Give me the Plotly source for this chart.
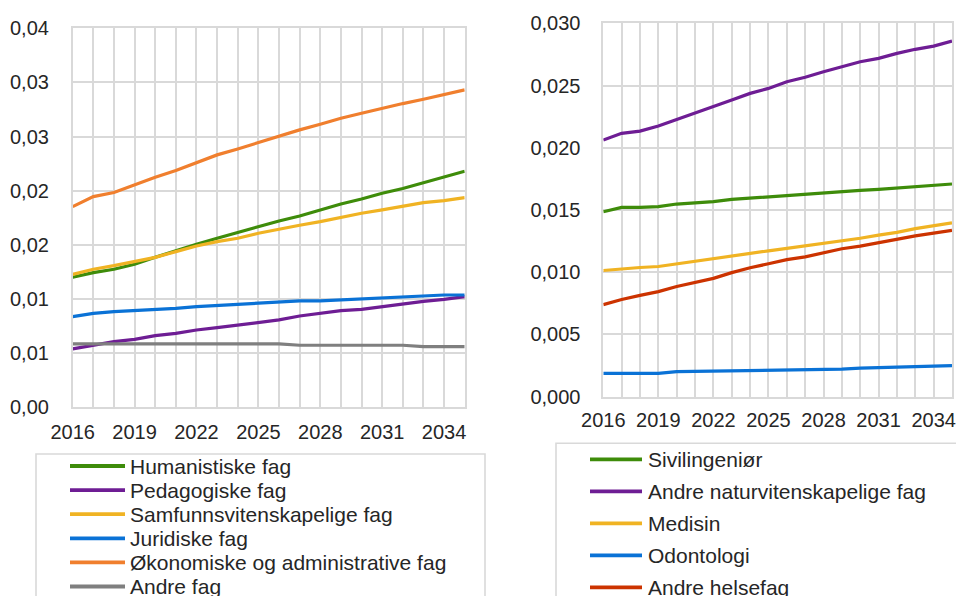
import plotly.graph_objects as go

years = list(range(2016, 2036))

# Left panel
humanistiske = [0.01201, 0.01244, 0.01275, 0.01321, 0.01385, 0.01447, 0.01505, 0.01561, 0.01616, 0.01669,
                0.01721, 0.01767, 0.01823, 0.01878, 0.01924, 0.01977, 0.02020, 0.02075, 0.02124, 0.02180]
pedagogiske = [0.00539, 0.00576, 0.00607, 0.00628, 0.00662, 0.00683, 0.00714, 0.00736, 0.00760, 0.00782,
               0.00807, 0.00843, 0.00868, 0.00893, 0.00905, 0.00930, 0.00954, 0.00979, 0.00997, 0.01022]
samfunn = [0.01228, 0.01275, 0.01308, 0.01345, 0.01385, 0.01438, 0.01490, 0.01530, 0.01561, 0.01607,
           0.01647, 0.01681, 0.01715, 0.01755, 0.01792, 0.01823, 0.01853, 0.01890, 0.01909, 0.01937]
juridiske = [0.00837, 0.00868, 0.00884, 0.00893, 0.00905, 0.00914, 0.00930, 0.00939, 0.00948, 0.00960,
             0.00973, 0.00982, 0.00982, 0.00991, 0.01000, 0.01013, 0.01016, 0.01028, 0.01037, 0.01037]
okonomiske = [0.01853, 0.01946, 0.01983, 0.02053, 0.02124, 0.02186, 0.02260, 0.02331, 0.02386, 0.02445,
              0.02500, 0.02562, 0.02614, 0.02669, 0.02716, 0.02762, 0.02805, 0.02845, 0.02888, 0.02931]
andre_fag = [0.00585, 0.00585, 0.00585, 0.00585, 0.00585, 0.00585, 0.00585, 0.00585, 0.00585, 0.00585,
             0.00585, 0.00573, 0.00573, 0.00573, 0.00573, 0.00573, 0.00573, 0.00560, 0.00560, 0.00560]

# Right panel
sivilingenior = [0.01486, 0.01521, 0.01521, 0.01527, 0.01548, 0.01559, 0.01567, 0.01585, 0.01596, 0.01607,
                 0.01618, 0.01626, 0.01636, 0.01647, 0.01658, 0.01666, 0.01676, 0.01687, 0.01698, 0.01709]
andre_natur = [0.02062, 0.02116, 0.02134, 0.02175, 0.02228, 0.02282, 0.02335, 0.02384, 0.02437, 0.02477,
               0.02531, 0.02566, 0.02611, 0.02651, 0.02691, 0.02718, 0.02758, 0.02791, 0.02817, 0.02858]
medisin = [0.01014, 0.01027, 0.01038, 0.01046, 0.01068, 0.01090, 0.01109, 0.01131, 0.01150, 0.01172,
           0.01191, 0.01210, 0.01232, 0.01254, 0.01273, 0.01298, 0.01320, 0.01350, 0.01372, 0.01396]
odontologi = [0.00187, 0.00187, 0.00187, 0.00187, 0.00201, 0.00203, 0.00205, 0.00209, 0.00212, 0.00212,
              0.00214, 0.00218, 0.00220, 0.00222, 0.00230, 0.00232, 0.00233, 0.00241, 0.00245, 0.00249]
andre_helse = [0.00740, 0.00781, 0.00814, 0.00844, 0.00885, 0.00918, 0.00951, 0.00997, 0.01036, 0.01068,
               0.01101, 0.01123, 0.01156, 0.01189, 0.01210, 0.01238, 0.01265, 0.01292, 0.01314, 0.01336]

left_names = ["Humanistiske fag", "Pedagogiske fag", "Samfunnsvitenskapelige fag", "Juridiske fag",
              "Økonomiske og administrative fag", "Andre fag"]
left_series = [humanistiske, pedagogiske, samfunn, juridiske, okonomiske, andre_fag]
left_colors = ["#3E8C0A", "#6E1D94", "#F0B323", "#0A72D6", "#F07F2E", "#7F7F7F"]

right_names = ["Sivilingeniør", "Andre naturvitenskapelige fag", "Medisin", "Odontologi", "Andre helsefag"]
right_series = [sivilingenior, andre_natur, medisin, odontologi, andre_helse]
right_colors = ["#3E8C0A", "#6E1D94", "#F0B323", "#0A72D6", "#CC3300"]

left_yticks = [0, 0.005, 0.01, 0.015, 0.02, 0.025, 0.03, 0.035]
left_yticktext = ["0,00", "0,01", "0,01", "0,02", "0,02", "0,03", "0,03", "0,04"]
right_yticks = [0, 0.005, 0.01, 0.015, 0.02, 0.025, 0.03]
right_yticktext = ["0,000", "0,005", "0,010", "0,015", "0,020", "0,025", "0,030"]
xticks = list(range(2016, 2036, 3))

W, H = 956, 596
FONT = "Liberation Sans, Arial, sans-serif"
TXT = "#262626"
GRID = "#D9D9D9"
LW = 3.2


def px(x):
    return x / W


def py(y):
    return 1 - y / H


fig = go.Figure()
for n, s, c in zip(left_names, left_series, left_colors):
    fig.add_trace(go.Scatter(x=years, y=s, name=n, mode="lines", line=dict(color=c, width=LW),
                             xaxis="x", yaxis="y", showlegend=False))
for n, s, c in zip(right_names, right_series, right_colors):
    fig.add_trace(go.Scatter(x=years, y=s, name=n, mode="lines", line=dict(color=c, width=LW),
                             xaxis="x2", yaxis="y2", showlegend=False))

# Legend boxes (drawn as boxes, entries below)
shapes = [
    dict(type="rect", xref="paper", yref="paper", x0=px(36), x1=px(485), y0=py(640), y1=py(454),
         line=dict(color=GRID, width=1.6), fillcolor="white", layer="below"),
    dict(type="rect", xref="paper", yref="paper", x0=px(556), x1=px(1000), y0=py(640), y1=py(443.3),
         line=dict(color=GRID, width=1.6), fillcolor="white", layer="below"),
]
annotations = []


def add_legend(names, colors, x_line0, x_line1, x_text, y0, dy):
    for i, (n, c) in enumerate(zip(names, colors)):
        y = y0 + i * dy
        shapes.append(dict(type="line", xref="paper", yref="paper", x0=px(x_line0), x1=px(x_line1),
                           y0=py(y), y1=py(y), line=dict(color=c, width=LW + 0.6)))
        annotations.append(dict(xref="paper", yref="paper", x=px(x_text), y=py(y), text=n,
                                showarrow=False, xanchor="left", yanchor="middle", borderpad=0,
                                font=dict(family=FONT, size=21, color=TXT)))


add_legend(left_names, left_colors, 70, 125, 128.5, 466, 24.1)
add_legend(right_names, right_colors, 590, 642, 646.5, 459.3, 32.0)

xcommon = dict(range=[2016, 2035], tickvals=xticks, ticktext=[str(v) for v in xticks],
               showgrid=True, gridcolor=GRID, gridwidth=1.6,
               minor=dict(dtick=1, tick0=2016, showgrid=True, gridcolor=GRID, gridwidth=1.6),
               showline=True, linecolor=GRID, linewidth=1.6, mirror=True,
               zeroline=False, ticks="", tickfont=dict(family=FONT, size=20, color=TXT),
               automargin=False, fixedrange=True)
ycommon = dict(showgrid=True, gridcolor=GRID, gridwidth=1.6, showline=True, linecolor=GRID,
               linewidth=1.6, mirror=True, zeroline=False, ticks="",
               tickfont=dict(family=FONT, size=20, color=TXT), automargin=False, fixedrange=True)

fig.update_layout(
    width=W, height=H, margin=dict(l=0, r=0, t=0, b=0),
    paper_bgcolor="white", plot_bgcolor="white",
    font=dict(family=FONT, size=20, color=TXT),
    showlegend=False,
    xaxis=dict(**xcommon, domain=[px(72.7), px(464.7)], anchor="y", ticklabelstandoff=6),
    yaxis=dict(**ycommon, domain=[py(407.3), py(28.3)], anchor="x", range=[0, 0.035],
               tickvals=left_yticks, ticktext=left_yticktext, ticklabelstandoff=18),
    xaxis2=dict(**xcommon, domain=[px(603.3), px(952)], anchor="y2", ticklabelstandoff=4),
    yaxis2=dict(**ycommon, domain=[py(396.7), py(23.3)], anchor="x2", range=[0, 0.03],
                tickvals=right_yticks, ticktext=right_yticktext, ticklabelstandoff=17),
    shapes=shapes,
    annotations=annotations,
)

fig.write_html("out.html", config={"displayModeBar": False},
               post_script="document.body.style.margin='0';document.body.style.overflow='hidden';")
